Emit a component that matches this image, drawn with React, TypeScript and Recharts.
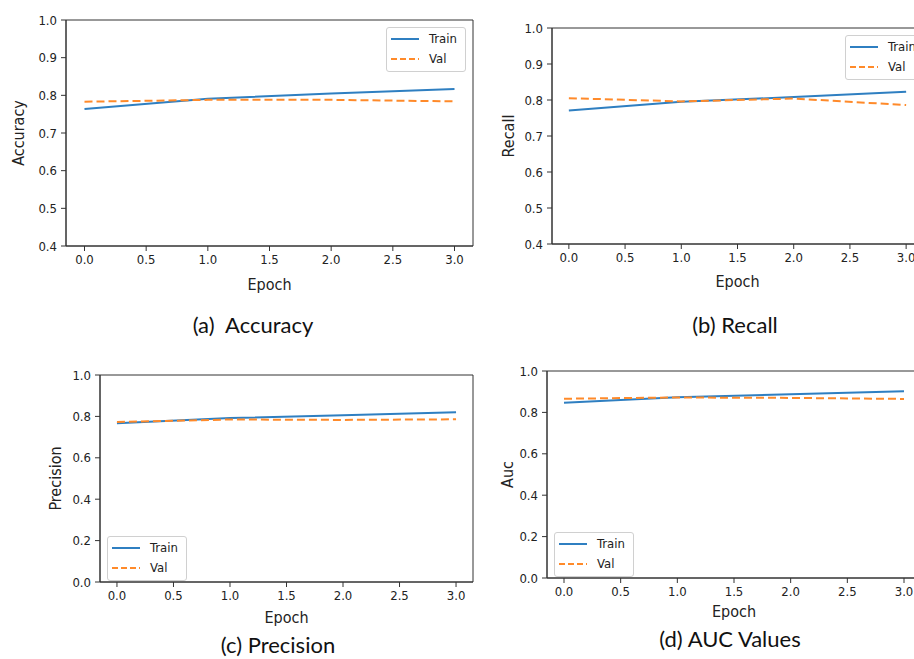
import React from 'react';
import { LineChart, Line, XAxis, YAxis, ReferenceArea, Legend } from 'recharts';

const epochs = [0, 1, 2, 3];
const accTrain = [0.764, 0.791, 0.805, 0.817];
const accVal = [0.783, 0.788, 0.788, 0.784];
const recTrain = [0.771, 0.795, 0.808, 0.823];
const recVal = [0.805, 0.796, 0.804, 0.786];
const precTrain = [0.767, 0.792, 0.805, 0.820];
const precVal = [0.773, 0.785, 0.783, 0.786];
const aucTrain = [0.847, 0.873, 0.888, 0.902];
const aucVal = [0.866, 0.872, 0.870, 0.865];
const xTicks = [0, 0.5, 1, 1.5, 2, 2.5, 3];
const yTicksFine = [0.4, 0.5, 0.6, 0.7, 0.8, 0.9, 1.0];
const yTicksCoarse = [0, 0.2, 0.4, 0.6, 0.8, 1.0];
const seriesNames = ['Train', 'Val'];
const captions = ['(a)  Accuracy', '(b) Recall', '(c) Precision', '(d) AUC Values'];

const FONT = "'DejaVu Sans Condensed', 'DejaVu Sans', sans-serif";
const BLUE = '#2f7fc1';
const ORANGE = '#ff8a2a';
const X_DOMAIN: [number, number] = [-0.15, 3.15];

const buildRows = (train: number[], val: number[]) =>
  epochs.map((e, i) => ({ epoch: e, train: train[i], val: val[i] }));

const LegendBox = (props: any) => {
  const payload = props.payload || [];
  return (
    <div
      style={{
        border: '1px solid #d0d0d0',
        borderRadius: 3,
        background: 'rgba(255,255,255,0.85)',
        padding: '1px 8px 2px 4px',
        fontFamily: FONT,
        fontSize: 13,
        color: '#222',
        lineHeight: '20px',
      }}
    >
      {payload.map((e: any, i: number) => (
        <div key={i} style={{ display: 'flex', alignItems: 'center', height: 20 }}>
          <svg width={28} height={4} style={{ display: 'block' }}>
            <line
              x1={0}
              y1={2}
              x2={28}
              y2={2}
              stroke={e.color}
              strokeWidth={2}
              strokeDasharray={e.value === 'Val' ? '6 3' : undefined}
            />
          </svg>
          <span style={{ marginLeft: 10 }}>{e.value}</span>
        </div>
      ))}
    </div>
  );
};

type PanelProps = {
  left: number;
  top: number;
  width: number;
  height: number;
  margin: { top: number; right: number; bottom: number; left: number };
  yAxisWidth: number;
  xAxisHeight: number;
  yDomain: [number, number];
  yTicks: number[];
  yLabel: string;
  yLabelOffset: number;
  train: number[];
  val: number[];
  legendLeft: number;
  legendTop: number;
};

const Panel = (p: PanelProps) => {
  const data = buildRows(p.train, p.val);
  return (
    <div style={{ position: 'absolute', left: p.left, top: p.top }}>
      <LineChart width={p.width} height={p.height} data={data} margin={p.margin}>
        <XAxis
          dataKey="epoch"
          type="number"
          domain={X_DOMAIN}
          ticks={xTicks}
          allowDataOverflow
          height={p.xAxisHeight}
          tickFormatter={(v: number) => v.toFixed(1)}
          tick={{ fill: '#222', fontSize: 13, fontFamily: FONT }}
          tickSize={5}
          tickMargin={4}
          axisLine={{ stroke: '#333' }}
          tickLine={{ stroke: '#333' }}
          label={{
            value: 'Epoch',
            position: 'insideBottom',
            offset: 0,
            style: { fill: '#222', fontSize: 16, fontFamily: FONT },
          }}
        />
        <YAxis
          type="number"
          domain={p.yDomain}
          ticks={p.yTicks}
          allowDataOverflow
          width={p.yAxisWidth}
          tickFormatter={(v: number) => v.toFixed(1)}
          tick={{ fill: '#222', fontSize: 13, fontFamily: FONT }}
          tickSize={5}
          tickMargin={4}
          axisLine={{ stroke: '#333' }}
          tickLine={{ stroke: '#333' }}
          label={{
            value: p.yLabel,
            angle: -90,
            position: 'insideLeft',
            offset: p.yLabelOffset,
            style: { fill: '#222', fontSize: 16, fontFamily: FONT, textAnchor: 'middle' },
          }}
        />
        <ReferenceArea
          x1={X_DOMAIN[0]}
          x2={X_DOMAIN[1]}
          y1={p.yDomain[0]}
          y2={p.yDomain[1]}
          fill="none"
          stroke="#333"
          strokeWidth={1}
        />
        <Line
          type="linear"
          dataKey="train"
          name={seriesNames[0]}
          stroke={BLUE}
          strokeWidth={2}
          dot={false}
          isAnimationActive={false}
        />
        <Line
          type="linear"
          dataKey="val"
          name={seriesNames[1]}
          stroke={ORANGE}
          strokeWidth={2}
          strokeDasharray="8 4"
          dot={false}
          isAnimationActive={false}
        />
        <Legend
          layout="vertical"
          align="center"
          verticalAlign="middle"
          content={LegendBox}
          wrapperStyle={{
            left: p.legendLeft - p.left,
            top: p.legendTop - p.top,
            width: 'auto',
            height: 'auto',
          }}
        />
      </LineChart>
    </div>
  );
};

// cx: horizontal centre, baseline: text baseline y
const captionStyle = (cx: number, baseline: number): React.CSSProperties => ({
  position: 'absolute',
  left: cx - 150,
  top: baseline - 21.5,
  width: 300,
  height: 26,
  textAlign: 'center',
  fontFamily: "Lato, 'Open Sans', sans-serif",
  fontSize: 22,
  lineHeight: '26px',
  color: '#111',
  whiteSpace: 'pre',
});

export default function App() {
  return (
    <div
      style={{
        position: 'absolute',
        left: 0,
        top: 0,
        width: 914,
        height: 659,
        overflow: 'hidden',
        background: '#fff',
      }}
    >
      <Panel
        left={0}
        top={0}
        width={480}
        height={300}
        margin={{ top: 20, right: 7, bottom: 10, left: 0 }}
        yAxisWidth={66}
        xAxisHeight={44}
        yDomain={[0.4, 1.0]}
        yTicks={yTicksFine}
        yLabel="Accuracy"
        yLabelOffset={18}
        train={accTrain}
        val={accVal}
        legendLeft={386}
        legendTop={27}
      />
      <Panel
        left={480}
        top={0}
        width={450}
        height={300}
        margin={{ top: 28, right: 7, bottom: 13, left: 0 }}
        yAxisWidth={72}
        xAxisHeight={43}
        yDomain={[0.4, 1.0]}
        yTicks={yTicksFine}
        yLabel="Recall"
        yLabelOffset={28}
        train={recTrain}
        val={recVal}
        legendLeft={845}
        legendTop={35}
      />
      <Panel
        left={0}
        top={350}
        width={480}
        height={300}
        margin={{ top: 25, right: 7, bottom: 27, left: 0 }}
        yAxisWidth={100}
        xAxisHeight={41}
        yDomain={[0, 1.0]}
        yTicks={yTicksCoarse}
        yLabel="Precision"
        yLabelOffset={55}
        train={precTrain}
        val={precVal}
        legendLeft={107}
        legendTop={536}
      />
      <Panel
        left={480}
        top={350}
        width={450}
        height={300}
        margin={{ top: 21, right: 9, bottom: 33, left: 0 }}
        yAxisWidth={67}
        xAxisHeight={39}
        yDomain={[0, 1.0]}
        yTicks={yTicksCoarse}
        yLabel="Auc"
        yLabelOffset={27}
        train={aucTrain}
        val={aucVal}
        legendLeft={554}
        legendTop={532}
      />
      <div style={captionStyle(253, 333)}>{captions[0]}</div>
      <div style={captionStyle(735, 333)}>{captions[1]}</div>
      <div style={captionStyle(278, 653)}>{captions[2]}</div>
      <div style={captionStyle(730, 647)}>{captions[3]}</div>
    </div>
  );
}
